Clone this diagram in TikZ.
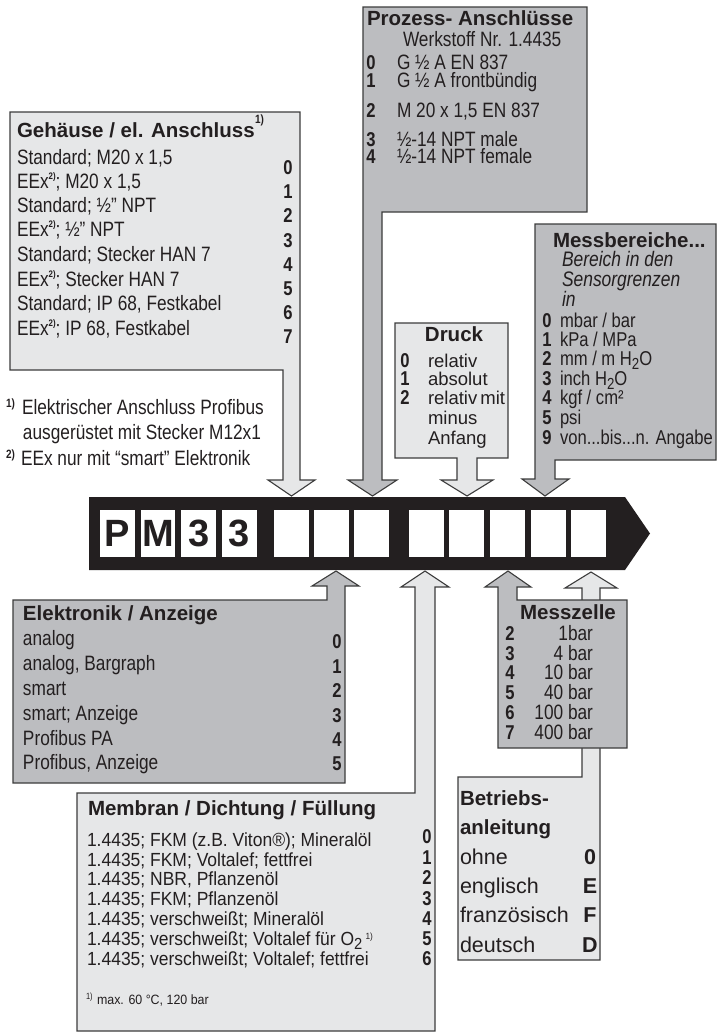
\documentclass[tikz,border=0pt]{standalone}
\usepackage{fontspec}
\setmainfont{Liberation Sans}[FakeStretch=0.83]
\newfontfamily\widefont{Liberation Sans}
\newfontfamily\memfont{Liberation Sans}[FakeStretch=0.92]
\definecolor{lightg}{HTML}{E6E7E8}
\definecolor{darkg}{HTML}{BCBDC0}
\definecolor{edge}{HTML}{3C3C3C}
\definecolor{ink}{HTML}{231F20}
\newcommand\supx[1]{\raisebox{0.8ex}{\bfseries\fontsize{9.5}{9.5}\selectfont #1}}
\newcommand\subx[1]{\raisebox{-0.35ex}{\fontsize{16}{16}\selectfont #1}}
\tikzset{
  light/.style={fill=lightg,draw=edge,line width=1.1pt},
  dark/.style={fill=darkg,draw=edge,line width=1.1pt},
  txt/.style={inner sep=0pt,outer sep=0pt,anchor=mid west,text=ink,font=\fontsize{20.8}{22}\selectfont},
  mbtxt/.style={txt,font=\fontsize{20}{21}\selectfont},
  memtxt/.style={txt,font=\memfont\fontsize{19}{20}\selectfont},
  widetxt/.style={txt,font=\widefont\fontsize{18.5}{20}\selectfont},
  bettxt/.style={txt,font=\widefont\fontsize{21.5}{23}\selectfont},
  itx/.style={txt,font=\fontsize{21}{22}\selectfont\itshape},
  numc/.style={inner sep=0pt,outer sep=0pt,anchor=mid,text=ink,font=\fontsize{20}{21}\selectfont\bfseries},
  betnum/.style={numc,font=\widefont\fontsize{21.5}{23}\selectfont\bfseries},
  ttl/.style={inner sep=0pt,outer sep=0pt,anchor=mid west,text=ink,font=\widefont\bfseries\fontsize{20.5}{22}\selectfont},
  fnm/.style={inner sep=0pt,outer sep=0pt,anchor=mid west,text=ink,font=\bfseries\fontsize{12}{12}\selectfont},
  wbox/.style={fill=white,draw=none},
  big/.style={inner sep=0pt,outer sep=0pt,anchor=center,text=ink,font=\widefont\bfseries\fontsize{38}{40}\selectfont},
}
\begin{document}
\begin{tikzpicture}[x=1pt,y=-1pt]
\useasboundingbox (0,0) rectangle (718,1034);

% ---- callout shapes ----
\path[light] (458,777) -- (582,777) -- (582,588) -- (565,588) -- (591,572) -- (617,588) -- (600,588) -- (600,960) -- (458,960) -- cycle;
\path[dark] (498,748) -- (498,587) -- (485,587) -- (508,571) -- (531,587) -- (517,587) -- (517,600) -- (627,600) -- (627,748) -- cycle;
\path[light] (77,793) -- (415,793) -- (415,587) -- (401,587) -- (425,571) -- (449,587) -- (435,587) -- (435,1031) -- (77,1031) -- cycle;
\path[dark] (13,600) -- (327,600) -- (327,586) -- (312,586) -- (336,571) -- (359,586) -- (345,586) -- (345,783) -- (13,783) -- cycle;
\path[light] (10,112) -- (300,112) -- (300,480) -- (315,480) -- (291.5,496) -- (268,480) -- (283,480) -- (283,370) -- (10,370) -- cycle;
\path[dark] (363,7) -- (587,7) -- (587,212) -- (382,212) -- (382,480) -- (397,480) -- (372.5,496) -- (348,480) -- (363,480) -- cycle;
\path[light] (395,323) -- (508,323) -- (508,458) -- (477,458) -- (477,480) -- (493,480) -- (467,496) -- (441,480) -- (457,480) -- (457,458) -- (395,458) -- cycle;
\path[dark] (535,224) -- (716,224) -- (716,460) -- (555,460) -- (555,479) -- (569,479) -- (545,496) -- (522,479) -- (535,479) -- cycle;

% ---- code bar ----
\fill[ink] (89,497) -- (625,497) -- (650,533.5) -- (625,570) -- (89,570) -- cycle;
\foreach \x in {100,140.7,181.4,222,274,314,354,409,449,490,531,571}
  \fill[wbox] (\x,510) rectangle ++(34.5,47);
\node[big] (cP) at (117.2,533.5) {P};
\node[big] (cM) at (157.9,533.5) {M};
\node[big] (c3a) at (198.6,533.5) {3};
\node[big] (c3b) at (239.2,533.5) {3};

% ---- Gehaeuse ----
\node[ttl] (gtitle) at (17,135) {Gehäuse / el. Anschluss};
\node[fnm] (gsup) at (255,121) {1)};
\node[txt] (g0) at (17,162) {Standard; M20 x 1,5};
\node[txt] (g1) at (17,186) {EEx\supx{2)}; M20 x 1,5};
\node[txt] (g2) at (17,210) {Standard; ½” NPT};
\node[txt] (g3) at (17,234) {EEx\supx{2)}; ½” NPT};
\node[txt] (g4) at (17,259) {Standard; Stecker HAN 7};
\node[txt] (g5) at (17,284) {EEx\supx{2)}; Stecker HAN 7};
\node[txt] (g6) at (17,308) {Standard; IP 68, Festkabel};
\node[txt] (g7) at (17,333) {EEx\supx{2)}; IP 68, Festkabel};
\node[numc] (gn0) at (288,172) {0};
\node[numc] (gn1) at (288,196) {1};
\node[numc] (gn2) at (288,220) {2};
\node[numc] (gn3) at (288,245) {3};
\node[numc] (gn4) at (288,269) {4};
\node[numc] (gn5) at (288,293) {5};
\node[numc] (gn6) at (288,317) {6};
\node[numc] (gn7) at (288,341) {7};

% ---- footnotes ----
\node[fnm] (f1m) at (6,405) {1)};
\node[txt] (f1a) at (22,412) {Elektrischer Anschluss Profibus};
\node[txt] (f1b) at (23,437) {ausgerüstet mit Stecker M12x1};
\node[fnm] (f2m) at (6,456) {2)};
\node[txt] (f2a) at (21,463) {EEx nur mit “smart” Elektronik};

% ---- Prozess ----
\node[ttl] (ptitle) at (367,23) {Prozess- Anschlüsse};
\node[txt] (pw) at (403,44) {Werkstoff Nr. 1.4435};
\node[numc] (pn0) at (371,67) {0};
\node[txt] (p0) at (397,67) {G ½ A EN 837};
\node[numc] (pn1) at (371,85) {1};
\node[txt] (p1) at (397,85) {G ½ A frontbündig};
\node[numc] (pn2) at (371,115) {2};
\node[txt] (p2) at (397,115) {M 20 x 1,5 EN 837};
\node[numc] (pn3) at (371,144) {3};
\node[txt] (p3) at (397,144) {½-14 NPT male};
\node[numc] (pn4) at (371,161) {4};
\node[txt] (p4) at (397,161) {½-14 NPT female};

% ---- Druck ----
\node[ttl,anchor=mid] (dtitle) at (454,339) {Druck};
\node[numc] (dn0) at (405,365) {0};
\node[widetxt] (d0) at (428,365) {relativ};
\node[numc] (dn1) at (405,383) {1};
\node[widetxt] (d1) at (428,383) {absolut};
\node[numc] (dn2) at (405,402) {2};
\node[widetxt] (d2) at (428,402) {relativ\,mit};
\node[widetxt] (d3) at (428,422) {minus};
\node[widetxt] (d4) at (428,442) {Anfang};

% ---- Messbereiche ----
\node[ttl] (mtitle) at (553,245) {Messbereiche...};
\node[itx] (mi1) at (562,264) {Bereich in den};
\node[itx] (mi2) at (562,284) {Sensorgrenzen};
\node[itx] (mi3) at (562,304) {in};
\node[numc] (mn0) at (547,325) {0};
\node[mbtxt] (m0) at (560,325) {mbar / bar};
\node[numc] (mn1) at (547,344) {1};
\node[mbtxt] (m1) at (560,344) {kPa / MPa};
\node[numc] (mn2) at (547,363) {2};
\node[mbtxt] (m2) at (560,363) {mm / m H\subx{2}O};
\node[numc] (mn3) at (547,383) {3};
\node[mbtxt] (m3) at (560,383) {inch H\subx{2}O};
\node[numc] (mn4) at (547,402) {4};
\node[mbtxt] (m4) at (560,402) {kgf / cm²};
\node[numc] (mn5) at (547,422) {5};
\node[mbtxt] (m5) at (560,422) {psi};
\node[numc] (mn9) at (547,442) {9};
\node[mbtxt] (m9) at (560,442) {von...bis...n. Angabe};

% ---- Elektronik ----
\node[ttl] (etitle) at (23,618) {Elektronik / Anzeige};
\node[txt] (e0) at (23,643) {analog};
\node[txt] (e1) at (23,668) {analog, Bargraph};
\node[txt] (e2) at (23,693) {smart};
\node[txt] (e3) at (23,718) {smart; Anzeige};
\node[txt] (e4) at (23,743) {Profibus PA};
\node[txt] (e5) at (23,767) {Profibus, Anzeige};
\node[numc] (en0) at (337,646) {0};
\node[numc] (en1) at (337,671) {1};
\node[numc] (en2) at (337,695) {2};
\node[numc] (en3) at (337,720) {3};
\node[numc] (en4) at (337,744) {4};
\node[numc] (en5) at (337,768) {5};

% ---- Membran ----
\node[ttl] (btitle) at (88,813) {Membran / Dichtung / Füllung};
\node[memtxt] (b0) at (87,844) {1.4435; FKM (z.B. Viton®); Mineralöl};
\node[memtxt] (b1) at (87,864) {1.4435; FKM; Voltalef; fettfrei};
\node[memtxt] (b2) at (87,883) {1.4435; NBR, Pflanzenöl};
\node[memtxt] (b3) at (87,903) {1.4435; FKM; Pflanzenöl};
\node[memtxt] (b4) at (87,923) {1.4435; verschweißt; Mineralöl};
\node[memtxt] (b5) at (87,943) {1.4435; verschweißt; Voltalef für O\subx{2}\,\raisebox{0.6ex}{\fontsize{9}{9}\selectfont 1)}};
\node[memtxt] (b6) at (87,963) {1.4435; verschweißt; Voltalef; fettfrei};
\node[numc] (bn0) at (427,841) {0};
\node[numc] (bn1) at (427,862) {1};
\node[numc] (bn2) at (427,882) {2};
\node[numc] (bn3) at (427,903) {3};
\node[numc] (bn4) at (427,923) {4};
\node[numc] (bn5) at (427,943) {5};
\node[numc] (bn6) at (427,963) {6};
\node[fnm,font=\fontsize{9}{9}\selectfont] (bfm) at (86,997) {1)};
\node[memtxt,font=\memfont\fontsize{13.5}{15}\selectfont] (bfn) at (97,1002) {max. 60 °C, 120 bar};

% ---- Messzelle ----
\node[ttl,anchor=mid] (ztitle) at (568,617) {Messzelle};
\node[numc] (zn2) at (510,638) {2};
\node[txt,anchor=mid east] (z2) at (593,638) {1bar};
\node[numc] (zn3) at (510,658) {3};
\node[txt,anchor=mid east] (z3) at (593,658) {4 bar};
\node[numc] (zn4) at (510,677) {4};
\node[txt,anchor=mid east] (z4) at (593,677) {10 bar};
\node[numc] (zn5) at (510,697) {5};
\node[txt,anchor=mid east] (z5) at (593,697) {40 bar};
\node[numc] (zn6) at (510,717) {6};
\node[txt,anchor=mid east] (z6) at (593,717) {100 bar};
\node[numc] (zn7) at (510,737) {7};
\node[txt,anchor=mid east] (z7) at (593,737) {400 bar};

% ---- Betriebsanleitung ----
\node[ttl] (atitle1) at (460,803) {Betriebs-};
\node[ttl] (atitle2) at (460,832) {anleitung};
\node[bettxt] (a0) at (460,862) {ohne};
\node[bettxt] (a1) at (460,891) {englisch};
\node[bettxt] (a2) at (460,920) {französisch};
\node[bettxt] (a3) at (460,950) {deutsch};
\node[betnum] (an0) at (590,862) {0};
\node[betnum] (an1) at (590,891) {E};
\node[betnum] (an2) at (590,920) {F};
\node[betnum] (an3) at (590,950) {D};
\end{tikzpicture}
\end{document}
